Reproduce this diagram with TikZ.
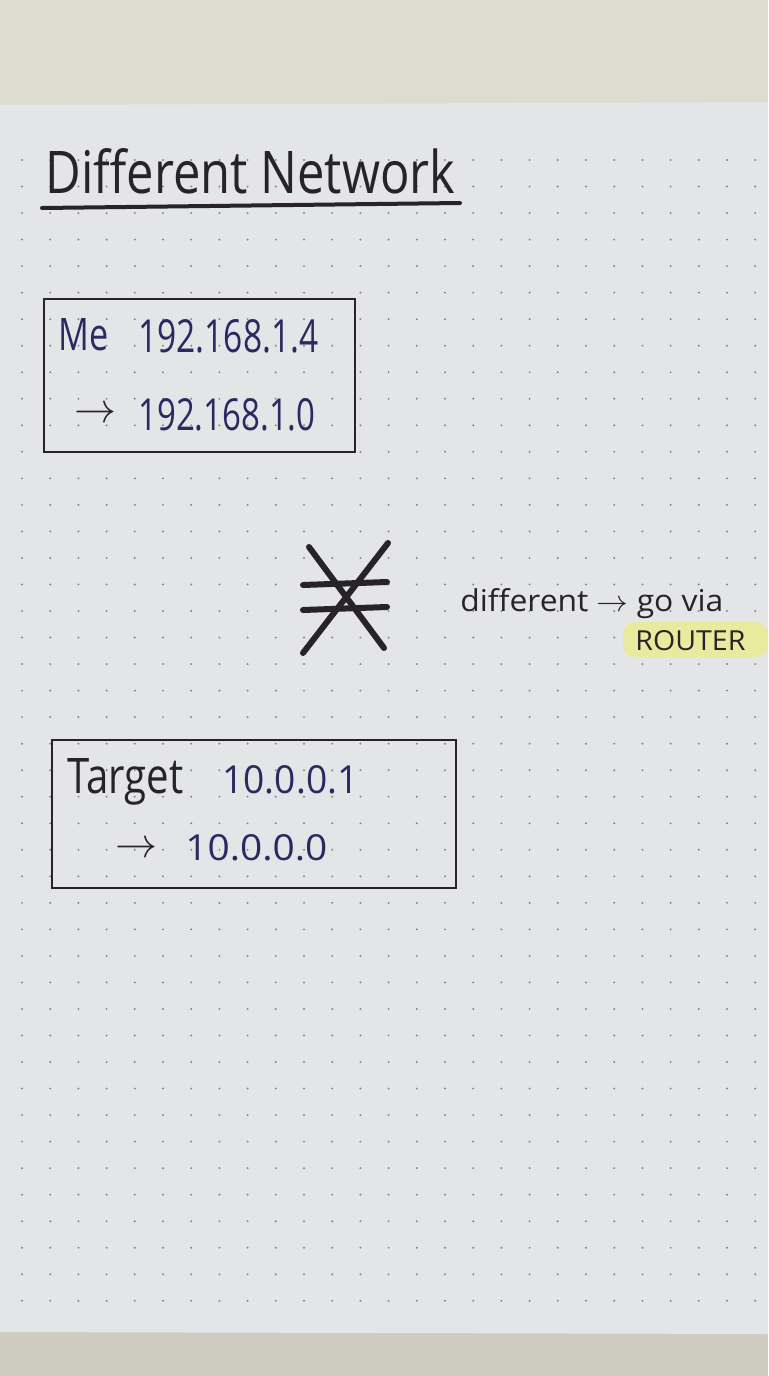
\documentclass[tikz,border=0pt]{standalone}
\usepackage{fontspec}
\setmainfont{Open Sans}
\usepackage{graphicx}

\definecolor{desk}{RGB}{222,220,207}
\definecolor{deskdark}{RGB}{206,204,193}
\definecolor{paper}{RGB}{228,229,231}
\definecolor{dotgray}{RGB}{135,135,138}
\definecolor{ink}{RGB}{40,35,38}
\definecolor{bluepen}{RGB}{42,42,98}
\definecolor{marker}{RGB}{232,235,158}

\newlength\px
\setlength\px{0.5pt}
\newcommand{\hand}[3]{\resizebox{#1\px}{#2\px}{#3}}

\tikzset{
  writing/.style={inner sep=0pt, anchor=base west},
  penline/.style={ink, line width=1.3pt},
  bigmark/.style={ink, line width=3pt, line cap=round}
}

\begin{document}
\begin{tikzpicture}[x=0.5pt, y=-0.5pt]
      \useasboundingbox (0,0) rectangle (768,1376);
      \fill[desk] (0,0) rectangle (768,1376);
      \fill[deskdark] (0,1300) rectangle (768,1376);
      \fill[paper] (0,105) -- (768,102) -- (768,1334) -- (0,1332) -- cycle;

      \foreach \i in {0,...,26}
        \foreach \j in {0,...,43}
          \fill[dotgray] (22+28.2*\i, 160+26.53*\j) circle (1.1);

      \node[writing, ink] (title) at (45,193) {\hand{410}{45}{Different Network}};
      \draw[ink, line width=2pt, line cap=round] (42,208) -- (460,203);

      \draw[penline] (44,299) rectangle (355,452);
      \node[writing, bluepen] (me) at (58,350) {\hand{50}{32}{Me}};
      \node[writing, bluepen] (meip) at (138,352) {\hand{180}{33}{192.168.1.4}};
      \node[ink, inner sep=0pt] (mearrow) at (96,415) {\resizebox{42\px}{!}{$\rightarrow$}};
      \node[writing, bluepen] (menet) at (138,430) {\hand{177}{32}{192.168.1.0}};

      \draw[bigmark] (303,585) -- (387,582);
      \draw[bigmark] (303,610) -- (387,607);
      \draw[bigmark] (309,547) -- (384,648);
      \draw[bigmark] (388,543) -- (303,653);

      \fill[marker, rounded corners=6] (623,622) rectangle (768,657);
      \node[writing, ink] (note) at (460,611) {\hand{263}{23}{different $\rightarrow$ go via}};
      \node[writing, ink] (router) at (635,650) {\hand{110}{20}{ROUTER}};

      \draw[penline] (52,740) rectangle (456,888);
      \node[writing, ink] (target) at (67,793) {\hand{116}{35}{Target}};
      \node[writing, bluepen] (targetip) at (222,793) {\hand{136}{28}{10.0.0.1}};
      \node[ink, inner sep=0pt] (targetarrow) at (136,850) {\resizebox{42\px}{!}{$\rightarrow$}};
      \node[writing, bluepen] (targetnet) at (185,860) {\hand{142}{26}{10.0.0.0}};
\end{tikzpicture}
\end{document}
